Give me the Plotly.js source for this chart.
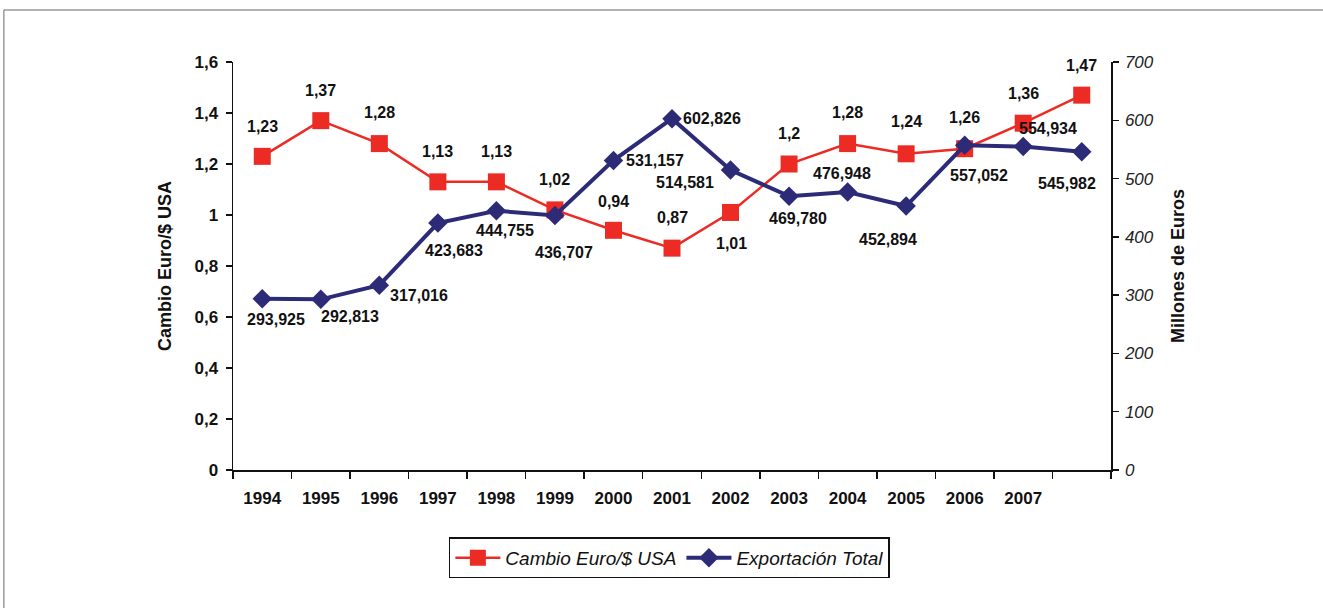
<!DOCTYPE html>
<html><head><meta charset="utf-8">
<script src="https://cdn.plot.ly/plotly-3.0.1.min.js"></script>
<style>html,body{margin:0;padding:0;background:#fff}#chart{width:1323px;height:608px}</style>
</head><body><div id="chart"></div>
<script>
// ---- data ----
const years = ['1994','1995','1996','1997','1998','1999','2000','2001','2002','2003','2004','2005','2006','2007',''];
const cambio = [1.23,1.37,1.28,1.13,1.13,1.02,0.94,0.87,1.01,1.2,1.28,1.24,1.26,1.36,1.47];
const exportacion = [293.925,292.813,317.016,423.683,444.755,436.707,531.157,602.826,514.581,469.780,476.948,452.894,557.052,554.934,545.982];
const seriesNames = ['Cambio Euro/$ USA','Exportación Total'];
const yTitleLeft = 'Cambio Euro/$ USA';
const yTitleRight = 'Millones de Euros';

// ---- label placement (pixel shifts, styling only) ----
const cambioShift = [[0,30],[0,30],[0,31],[0,30],[0,30],[0,30],[0,29],[0,31],[1,-31],[0,31],[0,31],[0,32],[0,31],[0,30],[0,30]];
const exportShift = [[14,-21],[29,-17],[40,-10],[16,-27],[9,-20],[9,-37],[42,0],[40,0],[-46,-12],[9,-22],[-6,19],[-18,-33],[14,-30],[25,18],[-15,-32]];

const idx = years.map((_, i) => i);
const RED = '#ec2b24', BLUE = '#2d2b77';
const labelFont = {family:'"Liberation Sans",Arial,sans-serif', size:16, color:'#111', weight:'bold'};

const annotations = [];
cambio.forEach((v, i) => annotations.push({
  x: idx[i], y: v, xref:'x', yref:'y', text: String(v).replace('.', ','),
  showarrow:false, xanchor:'center', yanchor:'middle',
  xshift: cambioShift[i][0], yshift: cambioShift[i][1], font: labelFont
}));
exportacion.forEach((v, i) => annotations.push({
  x: idx[i], y: v, xref:'x', yref:'y2', text: v.toFixed(3).replace('.', ','),
  showarrow:false, xanchor:'center', yanchor:'middle',
  xshift: exportShift[i][0], yshift: exportShift[i][1], font: labelFont
}));

const boundaries = idx.map(i => i - 0.5).concat([idx.length - 0.5]);

const traces = [
  {x: idx, y: cambio, name: seriesNames[0], type:'scatter', mode:'lines+markers', yaxis:'y',
   line:{color:RED, width:2.5}, marker:{symbol:'square', size:17, color:RED}},
  {x: idx, y: exportacion, name: seriesNames[1], type:'scatter', mode:'lines+markers', yaxis:'y2',
   line:{color:BLUE, width:4}, marker:{symbol:'diamond', size:15, color:BLUE}}
];

const layout = {
  width:1323, height:608,
  margin:{l:233, r:212, t:62, b:138},
  paper_bgcolor:'#fff', plot_bgcolor:'#fff',
  separators:', ',
  showlegend:true,
  font:{family:'"Liberation Sans",Arial,sans-serif', color:'#111'},
  xaxis:{
    range:[-0.5, idx.length - 0.5], tickmode:'array', tickvals: idx, ticktext: years,
    ticks:'', showgrid:false, zeroline:false, showline:true, linecolor:'#111', linewidth:1.5,
    tickfont:{size:17, weight:'bold', color:'#111'}, ticklabelstandoff:12,
    minor:{tickmode:'array', tickvals: boundaries, ticks:'outside', ticklen:7, tickwidth:1.5, tickcolor:'#111', showgrid:false},
    fixedrange:true
  },
  yaxis:{
    range:[0,1.6], dtick:0.2, tick0:0, ticks:'outside', ticklen:6, tickwidth:1.5, tickcolor:'#111',
    showgrid:false, zeroline:false, showline:true, linecolor:'#111', linewidth:1.5,
    tickfont:{size:17, weight:'bold', color:'#111'}, ticklabelstandoff:4,
    title:{text:yTitleLeft, font:{size:18, weight:'bold', color:'#111'}, standoff:18},
    fixedrange:true
  },
  yaxis2:{
    overlaying:'y', side:'right', range:[0,700], dtick:100, tick0:0,
    ticks:'outside', ticklen:6, tickwidth:1.5, tickcolor:'#111',
    showgrid:false, zeroline:false, showline:true, linecolor:'#111', linewidth:1.5,
    tickfont:{size:17, style:'italic', color:'#222'}, ticklabelstandoff:3,
    title:{text:yTitleRight, font:{size:18, weight:'bold', color:'#111'}, standoff:18},
    fixedrange:true
  },
  legend:{
    orientation:'h', x:0.497, xanchor:'center', y:-0.165, yanchor:'top',
    bordercolor:'#111', borderwidth:1.5, bgcolor:'#fff',
    font:{size:19, style:'italic', color:'#111'}, itemwidth:45, tracegroupgap:0
  },
  annotations: annotations,
  shapes:[
    {type:'line', xref:'paper', yref:'paper', x0:-0.261, x1:1.25, y0:1.1275, y1:1.1275, line:{color:'#999', width:1.5}},
    {type:'line', xref:'paper', yref:'paper', x0:-0.261, x1:-0.261, y0:1.1275, y1:-0.4, line:{color:'#999', width:1.5}}
  ]
};

Plotly.newPlot('chart', traces, layout, {staticPlot:true, displayModeBar:false});
</script>
</body></html>
